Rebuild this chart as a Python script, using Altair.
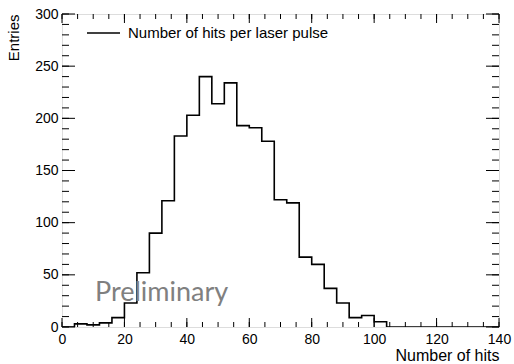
import altair as alt
import pandas as pd

# ---- data ----
bin_width = 4
bin_low_edges = list(range(0, 140, 4))
entries = [0, 3, 2, 4, 9, 23, 52, 90, 121, 183, 203, 240, 214, 234, 193, 191,
           178, 122, 119, 67, 60, 37, 23, 9, 11, 5, 0, 0, 0, 0, 0, 0, 0, 0, 0]
x_major_ticks = [0, 20, 40, 60, 80, 100, 120, 140]
x_minor_ticks = list(range(0, 141, 5))
y_major_ticks = [0, 50, 100, 150, 200, 250, 300]
y_minor_ticks = list(range(0, 301, 10))
legend_label = ["Number of hits per laser pulse"]
watermark = ["Preliminary"]
x_title = "Number of hits"
y_title = "Entries"

W, H = 437, 313
FONT = "Liberation Sans"

hist = pd.DataFrame({
    "x": bin_low_edges + [bin_low_edges[-1] + bin_width],
    "y": entries + [0],
})

xs = alt.Scale(domain=[0, 140], nice=False, zero=False)
ys = alt.Scale(domain=[0, 300], nice=False)

x_axis = alt.Axis(values=x_major_ticks, ticks=False, domain=False, grid=False,
                  labelFont=FONT, labelFontSize=14, labelColor="black",
                  labelPadding=5, labelFlush=False, labelOverlap=False,
                  title=x_title, titleFont=FONT, titleFontSize=16,
                  titleFontWeight="normal", titleColor="black",
                  titleAnchor="end", titleAlign="right", titleBaseline="alphabetic",
                  titleX=W, titleY=33)
y_axis = alt.Axis(values=y_major_ticks, ticks=False, domain=False, grid=False,
                  labelFont=FONT, labelFontSize=14, labelColor="black",
                  labelPadding=4, labelFlush=False, labelOverlap=False,
                  title=y_title, titleFont=FONT, titleFontSize=15,
                  titleFontWeight="normal", titleColor="black",
                  titleAnchor="end", titleAlign="right", titleBaseline="alphabetic",
                  titleAngle=270, titleX=-44, titleY=0)

line = alt.Chart(hist).mark_line(interpolate="step-after", color="black",
                                 strokeWidth=1.6, clip=True).encode(
    x=alt.X("x:Q", scale=xs, axis=x_axis),
    y=alt.Y("y:Q", scale=ys, axis=y_axis),
)

def xticks(vals, length):
    d = pd.DataFrame({"x": vals})
    bottom = alt.Chart(d).mark_rule(color="black", strokeWidth=1).encode(
        x=alt.X("x:Q", scale=xs, axis=x_axis), y=alt.value(H), y2=alt.value(H - length))
    top = alt.Chart(d).mark_rule(color="black", strokeWidth=1).encode(
        x=alt.X("x:Q", scale=xs, axis=x_axis), y=alt.value(0), y2=alt.value(length))
    return [bottom, top]

def yticks(vals, length):
    d = pd.DataFrame({"y": vals})
    left = alt.Chart(d).mark_rule(color="black", strokeWidth=1).encode(
        y=alt.Y("y:Q", scale=ys, axis=y_axis), x=alt.value(0), x2=alt.value(length))
    right = alt.Chart(d).mark_rule(color="black", strokeWidth=1).encode(
        y=alt.Y("y:Q", scale=ys, axis=y_axis), x=alt.value(W), x2=alt.value(W - length))
    return [left, right]

tick_layers = xticks(x_minor_ticks, 5) + xticks(x_major_ticks, 9) \
    + yticks(y_minor_ticks, 7) + yticks(y_major_ticks, 13)

leg_df = pd.DataFrame({"label": legend_label})
leg_line = alt.Chart(leg_df).mark_rule(color="black", strokeWidth=1.5).encode(
    x=alt.value(25), x2=alt.value(58), y=alt.value(19))
leg_text = alt.Chart(leg_df).mark_text(align="left", baseline="middle", font=FONT,
                                       fontSize=15, color="black").encode(
    x=alt.value(66), y=alt.value(19), text="label:N")

wm_df = pd.DataFrame({"t": watermark})
wm = alt.Chart(wm_df).mark_text(align="left", baseline="alphabetic", font="Lato",
                                fontSize=27, color="#808080").encode(
    x=alt.value(33), y=alt.value(287), text="t:N")

chart = alt.layer(line, *tick_layers, leg_line, leg_text, wm).properties(
    width=W, height=H,
    autosize=alt.AutoSizeParams(type="none"),
    padding={"left": 62, "top": 14, "right": 15, "bottom": 37},
).configure_view(stroke="black", strokeWidth=1.2).configure(background="white")

chart.save("out.html", embed_options={"renderer": "svg", "actions": False})
